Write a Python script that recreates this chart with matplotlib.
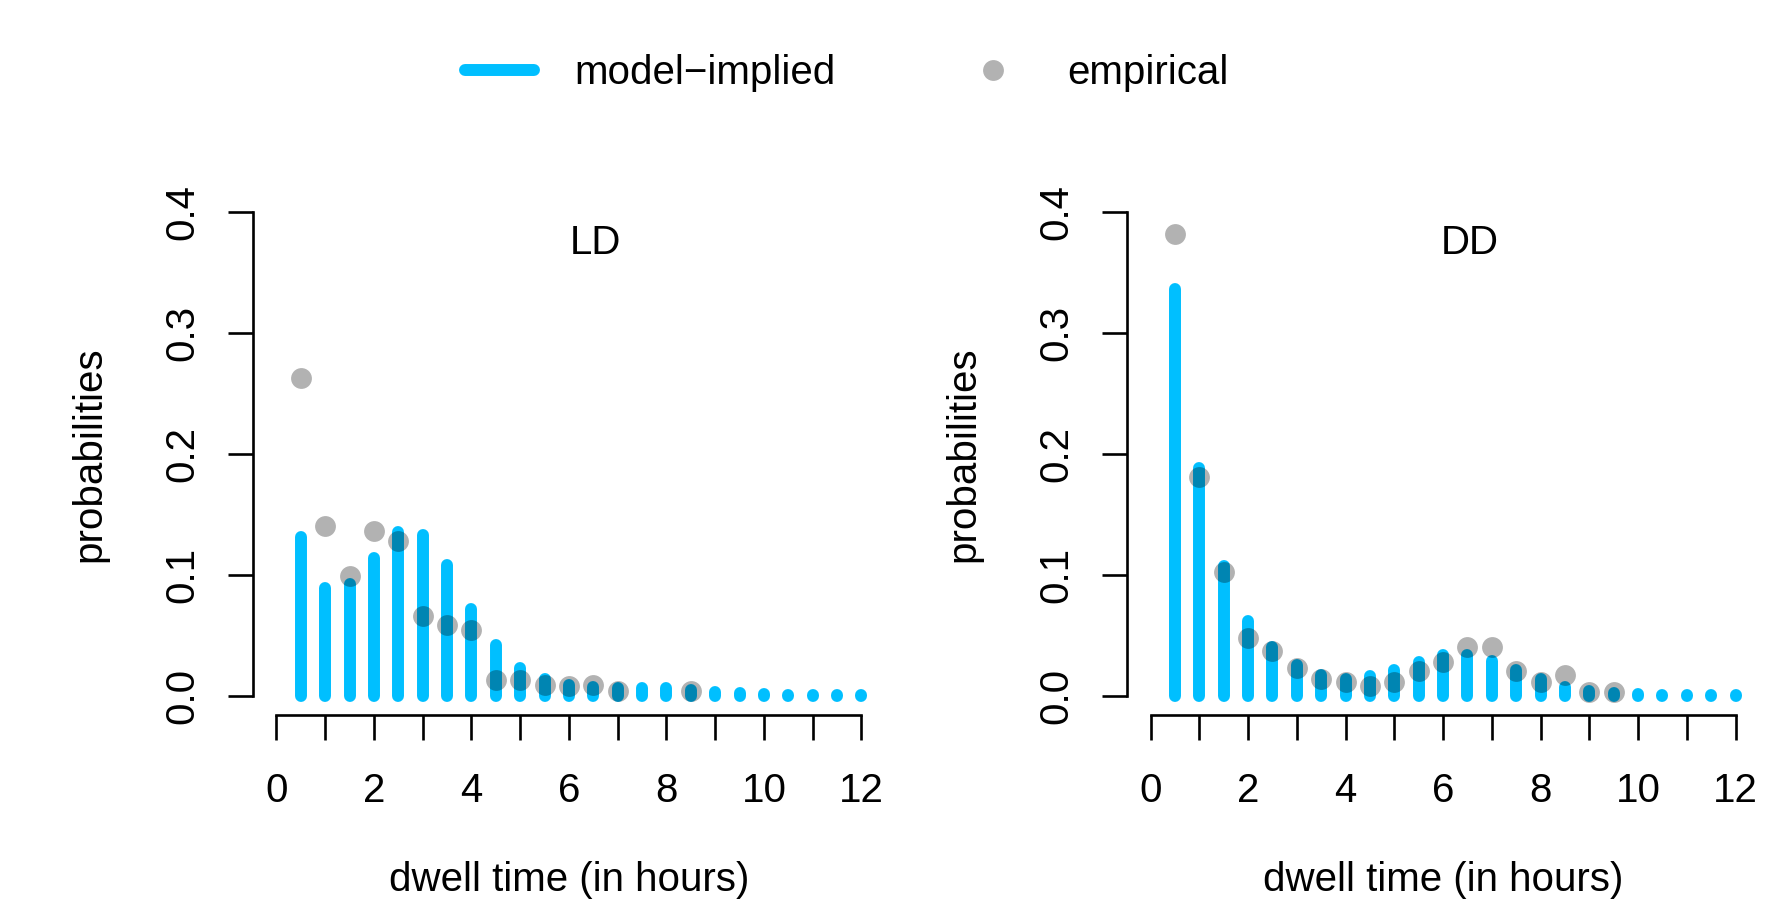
import matplotlib.pyplot as plt
from matplotlib.lines import Line2D

plt.rcParams['font.family'] = ['Liberation Sans', 'DejaVu Sans']

# dwell times (hours) of the model-implied distribution
dwell = [0.5, 1.0, 1.5, 2.0, 2.5, 3.0, 3.5, 4.0, 4.5, 5.0, 5.5, 6.0,
         6.5, 7.0, 7.5, 8.0, 8.5, 9.0, 9.5, 10.0, 10.5, 11.0, 11.5, 12.0]

ld_model = [0.131, 0.089, 0.092, 0.114, 0.135, 0.133, 0.108, 0.072, 0.042, 0.023, 0.014, 0.009,
            0.007, 0.006, 0.006, 0.006, 0.0045, 0.0034, 0.0023, 0.0012, 0.0005, 0.0003, 0.0002, 0.0001]
dd_model = [0.336, 0.188, 0.107, 0.062, 0.040, 0.025, 0.017, 0.014, 0.016, 0.021, 0.028, 0.034,
            0.034, 0.029, 0.021, 0.014, 0.007, 0.004, 0.0025, 0.001, 0.0005, 0.0003, 0.0002, 0.0001]

# empirical frequencies
ld_emp_x = [0.5, 1.0, 1.5, 2.0, 2.5, 3.0, 3.5, 4.0, 4.5, 5.0, 5.5, 6.0, 6.5, 7.0, 8.5]
ld_emp = [0.263, 0.140, 0.099, 0.136, 0.128, 0.066, 0.058, 0.054, 0.013, 0.013, 0.009, 0.008, 0.009, 0.004, 0.004]

dd_emp_x = [0.5, 1.0, 1.5, 2.0, 2.5, 3.0, 3.5, 4.0, 4.5, 5.0, 5.5, 6.0, 6.5, 7.0, 7.5, 8.0, 8.5, 9.0, 9.5]
dd_emp = [0.382, 0.181, 0.102, 0.048, 0.037, 0.023, 0.014, 0.011, 0.008, 0.011, 0.020, 0.028,
          0.040, 0.040, 0.020, 0.011, 0.017, 0.003, 0.003]

x_ticks = list(range(13))
x_labels = [str(i) if i % 2 == 0 else '' for i in x_ticks]
y_ticks = [0.0, 0.1, 0.2, 0.3, 0.4]
y_labels = ['0.0', '0.1', '0.2', '0.3', '0.4']

blue = '#00BFFF'
fs = 29

fig = plt.figure(figsize=(17.88, 9.0), dpi=100)

panels = [('LD', ld_model, ld_emp_x, ld_emp, 0.1415),
          ('DD', dd_model, dd_emp_x, dd_emp, 0.6304)]

for name, model, ex, emp, left in panels:
    ax = fig.add_axes([left, 0.2056, 0.3534, 0.5803])
    ax.vlines(dwell, 0, model, color=blue, lw=8.6, capstyle='round')
    ax.plot(ex, emp, 'o', color='black', alpha=0.3, ms=15, mec='none')

    ax.set_xlim(-0.48, 12.48)
    ax.set_ylim(-0.016, 0.416)
    ax.set_xticks(x_ticks)
    ax.set_xticklabels(x_labels)
    ax.set_yticks(y_ticks)
    ax.set_yticklabels(y_labels, rotation=90, va='center')

    # R-style detached axes
    for s in ['top', 'right']:
        ax.spines[s].set_visible(False)
    ax.spines['left'].set_bounds(0, 0.4)
    ax.spines['bottom'].set_bounds(0, 12)
    ax.spines['left'].set_linewidth(1.9)
    ax.spines['bottom'].set_linewidth(1.9)
    ax.tick_params(length=18, width=1.9, labelsize=fs)
    ax.tick_params(axis='x', pad=23)
    ax.tick_params(axis='y', pad=19)

    ax.text(6.55, 0.374, name, ha='center', va='center', fontsize=fs)
    ax.text(0.5, -0.337, 'dwell time (in hours)', transform=ax.transAxes,
            ha='center', va='baseline', fontsize=fs)
    ax.text(-0.2596, 0.5, 'probabilities', transform=ax.transAxes, rotation=90,
            ha='center', va='center', fontsize=fs)

handles = [Line2D([], [], color=blue, lw=8.6, solid_capstyle='round'),
           Line2D([], [], marker='o', ls='none', color='black', alpha=0.3, ms=15, mec='none')]
fig.legend(handles, ['model\u2212implied', 'empirical'], ncol=2, loc='center',
           bbox_to_anchor=(0.4737, 0.919), frameon=False, fontsize=fs,
           handlelength=1.7, handletextpad=1.0, columnspacing=3.05)

fig.savefig('out.png', dpi=100)
